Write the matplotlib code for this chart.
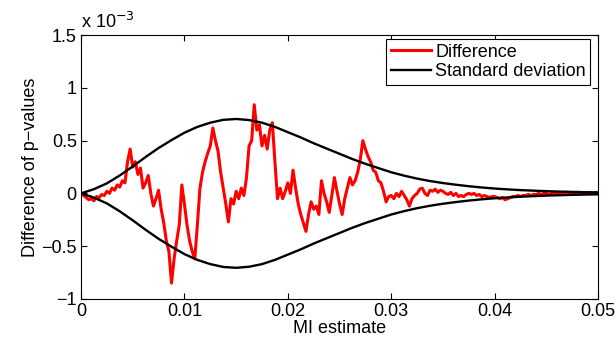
import numpy as np
import matplotlib
matplotlib.use("Agg")
import matplotlib.pyplot as plt

# values (y in units of 1e-3)
diff_vals = [
    0.0, -0.02, -0.04, -0.06, -0.05, -0.07, -0.03, -0.04, -0.01, -0.02,
    0.02, 0.0, 0.05, 0.03, 0.08, 0.06, 0.12, 0.10, 0.30, 0.42,
    0.25, 0.30, 0.18, 0.24, 0.05, 0.10, 0.17, 0.0, -0.12, -0.05,
    0.03, -0.15, -0.28, -0.45, -0.55, -0.85, -0.62, -0.45, -0.30, 0.08,
    -0.10, -0.30, -0.45, -0.55, -0.62, -0.30, 0.05, 0.20, 0.30, 0.38,
    0.45, 0.62, 0.50, 0.40, 0.20, 0.05, -0.10, -0.27, -0.05, -0.10,
    0.02, -0.05, 0.05, -0.02, 0.15, 0.45, 0.50, 0.84, 0.60, 0.65,
    0.45, 0.55, 0.42, 0.60, 0.67, 0.30, -0.05, 0.05, -0.05, 0.02,
    0.10, 0.0, 0.22, 0.05, -0.10, -0.20, -0.28, -0.36, -0.20, -0.08,
    -0.15, -0.12, -0.20, 0.12, 0.0, -0.08, -0.18, -0.02, 0.15, 0.02,
    -0.10, -0.20, -0.05, 0.05, 0.15, 0.08, 0.12, 0.20, 0.32, 0.50,
    0.42, 0.35, 0.30, 0.22, 0.20, 0.12, 0.10, 0.02, -0.08, -0.03,
    -0.02, -0.05, 0.0, -0.03, 0.02, -0.02, -0.06, -0.12, -0.05, -0.02,
    0.0, 0.04, 0.05, 0.0, -0.02, 0.03, 0.02, 0.04, 0.01, 0.03,
    0.02, 0.0, -0.01, 0.01, -0.02, 0.0, -0.03, -0.02, -0.03, -0.01,
    0.0, -0.01, 0.0, -0.02, -0.01, -0.03, -0.02, -0.03, -0.04, -0.03,
    -0.03, -0.04, -0.05, -0.04, -0.06, -0.05, -0.04, -0.03, -0.03, -0.02,
    -0.03, -0.02, -0.02, -0.01, -0.02, -0.01, -0.01, 0.0, -0.01, 0.0,
    0.0, -0.01, 0.0, 0.01, 0.0, 0.01, 0.0, 0.01, 0.01, 0.0,
    0.01, 0.0, 0.01, 0.01, 0.0, 0.01, 0.0, 0.01, 0.0, 0.01,
    0.005,
]
diff_x = np.linspace(0, 0.05, len(diff_vals))

std_vals = [
    0.0, 0.04, 0.095, 0.17, 0.255, 0.345, 0.43, 0.505, 0.575, 0.63,
    0.67, 0.697, 0.705, 0.695, 0.67, 0.63, 0.58, 0.53, 0.475, 0.425,
    0.375, 0.325, 0.28, 0.24, 0.20, 0.168, 0.14, 0.117, 0.098, 0.082,
    0.068, 0.056, 0.046, 0.038, 0.031, 0.026, 0.021, 0.017, 0.014, 0.011,
    0.009,
]
std_x = np.linspace(0, 0.05, len(std_vals))

x_ticks = [0, 0.01, 0.02, 0.03, 0.04, 0.05]
x_labels = ["0", "0.01", "0.02", "0.03", "0.04", "0.05"]
y_ticks = [-1, -0.5, 0, 0.5, 1, 1.5]
y_labels = ["\u22121", "\u22120.5", "0", "0.5", "1", "1.5"]

plt.rcParams['font.family'] = ['Liberation Sans', 'DejaVu Sans']
fs = 13

fig = plt.figure(figsize=(6.16, 3.44), dpi=100)
ax = fig.add_axes([0.1315, 0.131, 0.8395, 0.767])

std_arr = np.array(std_vals)
ax.plot(diff_x, diff_vals, color='red', lw=2.2, label='Difference', zorder=2)
ax.plot(std_x, std_arr, color='black', lw=1.7, label='Standard deviation', zorder=3)
ax.plot(std_x, -std_arr, color='black', lw=1.7, zorder=3)

ax.set_xlim(0, 0.05)
ax.set_ylim(-1, 1.5)
ax.set_xticks(x_ticks)
ax.set_xticklabels(x_labels, fontsize=fs)
ax.set_yticks(y_ticks)
ax.set_yticklabels(y_labels, fontsize=fs)
ax.tick_params(direction='in', top=True, right=True, length=4, width=0.8, pad=3)
for s in ax.spines.values():
    s.set_linewidth(0.8)

ax.set_xlabel("MI estimate", fontsize=fs, labelpad=0)
ax.set_ylabel("Difference of p\u2212values", fontsize=fs, labelpad=2)
ax.text(0.0, 1.01, "x 10$^{\u22123}$", transform=ax.transAxes, fontsize=fs,
        ha='left', va='bottom')

leg = ax.legend(loc='upper right', bbox_to_anchor=(0.985, 0.985), fontsize=fs,
                fancybox=False, framealpha=1, edgecolor='black',
                handlelength=2.2, handletextpad=0.25, borderpad=0.25,
                labelspacing=0.15, borderaxespad=0.0)
leg.get_frame().set_linewidth(0.8)

fig.savefig("out.png", dpi=100)
